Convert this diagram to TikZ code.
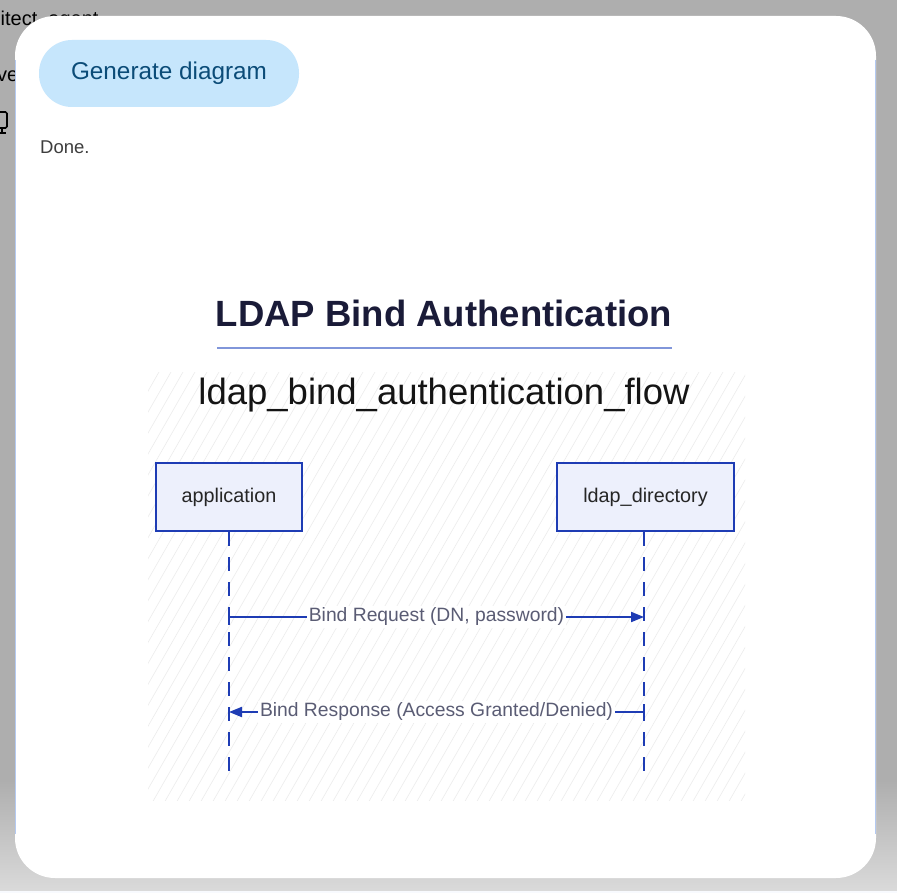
\documentclass[tikz,border=0pt]{standalone}
\usepackage{fontspec}
\setmainfont{Liberation Sans}
\usetikzlibrary{positioning,
				arrows.meta,
				calc}

\definecolor{pagegray}{HTML}{AEAEAE}
\definecolor{pagelight}{HTML}{DADADA}
\definecolor{edgeblue}{HTML}{B4CAF2}
\definecolor{btnfill}{HTML}{C6E6FC}
\definecolor{btntext}{HTML}{0B4C78}
\definecolor{donetext}{HTML}{3E3E3E}
\definecolor{seqblue}{HTML}{1E3CB4}
\definecolor{actorfill}{HTML}{EDF0FC}
\definecolor{titleink}{HTML}{1A1B38}
\definecolor{rulecol}{HTML}{8196DA}
\definecolor{msgink}{HTML}{5A5C74}
\definecolor{hatchcol}{HTML}{ECECEC}

\begin{document}
\begin{tikzpicture}[x=1pt,y=-1pt,
	actor/.style={draw=seqblue, line width=2.8pt, fill=actorfill, minimum height=68pt,
		font=\fontsize{19.8}{22}\selectfont, text=black!85},
	lifeline/.style={draw=seqblue, line width=2pt, dash pattern=on 14pt off 11pt},
	msg/.style={draw=seqblue, line width=2pt},
	msglabel/.style={fill=white, inner sep=2pt, text=msgink, font=\fontsize{19.3}{22}\selectfont},
	hatch/.style={draw=hatchcol, line width=0.6pt}]
	\useasboundingbox (0,0) rectangle (897,893);
	% window behind the panel
	\fill[pagegray] (0,0) rectangle (897,893);
	\shade[top color=pagegray, bottom color=pagelight] (0,780) rectangle (897,891);
	\fill[white!90!edgeblue] (0,891) rectangle (897,893);
	\node[anchor=west, inner sep=0pt, font=\fontsize{20}{24}\selectfont] (agent) at (0.5,20) {itect\_agent};
	\node[anchor=west, inner sep=0pt, font=\fontsize{20}{24}\selectfont] (ve) at (-3,76) {ve};
	\draw[line width=1.6pt, rounded corners=1.5pt] (-4,112) rectangle (7,128);
	\draw[line width=1.6pt] (2,128) -- (2,133) (-2,133) -- (6,133);
	% panel
	\fill[white, rounded corners=40pt] (15,16) rectangle (876,878);
	\draw[edgeblue, line width=0.8pt] (15.4,60) -- (15.4,834) (875.6,60) -- (875.6,834);
	\node[fill=btnfill, rounded corners=33pt, minimum width=260pt, minimum height=67pt,
		text=btntext, font=\fontsize{24.3}{28}\selectfont] (gen) at (169,73.5) {Generate diagram};
	\node[anchor=west, inner sep=0pt, text=donetext, font=\fontsize{18.5}{21}\selectfont] (done) at (40,147) {Done.};
	% hatched backdrop of the diagram
	\begin{scope}
		\clip (148,372) rectangle (745,800);
		\foreach \i in {0,...,78}
			\draw[hatch] (-140+\i*12,810) -- ++(255,-445);
	\end{scope}
	% title
	\node[text=titleink, font=\bfseries\fontsize{36.5}{40}\selectfont] (title) at (444,313) {LDAP Bind Authentication};
	\draw[rulecol, line width=1.2pt] (217,348) -- (672,348);
	\node[text=black!92, font=\fontsize{36.5}{40}\selectfont] (flow) at (444,395) {ldap\_bind\_authentication\_flow};
	% participants
	\node[actor, minimum width=146pt] (app) at (229,497) {application};
	\node[actor, minimum width=177pt] (ldap) at (645.5,497) {ldap\_directory};
	\coordinate (app-end) at (app.south |- 0,773);
	\coordinate (ldap-end) at (644,773);
	\draw[lifeline] (app.south) -- (app-end);
	\draw[lifeline] (ldap.south -| ldap-end) -- (ldap-end);
	% messages
	\coordinate (req-a) at (app.south |- 0,617);
	\coordinate (req-b) at (ldap-end |- 0,617);
	\coordinate (resp-a) at (ldap-end |- 0,712);
	\coordinate (resp-b) at (app.south |- 0,712);
	\draw[msg, -{Triangle[length=13pt,width=10pt]}] (req-a) -- node[msglabel] {Bind Request (DN, password)} (req-b);
	\draw[msg, -{Triangle[length=13pt,width=10pt]}] (resp-a) -- node[msglabel] {Bind Response (Access Granted/Denied)} (resp-b);
	\draw[msg] ($(req-a)+(0,-8)$) -- ($(req-a)+(0,8)$);
	\draw[msg] ($(resp-a)+(0,-8)$) -- ($(resp-a)+(0,8)$);
\end{tikzpicture}
\end{document}
